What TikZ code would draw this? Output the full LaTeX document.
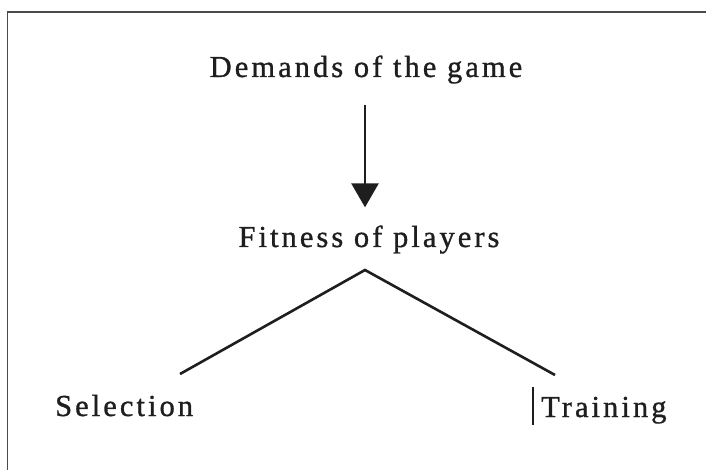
\documentclass[tikz,border=0pt]{standalone}
\usepackage{fontspec}
\newfontfamily\labelfont{Liberation Serif}[FakeBold=1, LetterSpace=10]
\usetikzlibrary{arrows.meta}
\definecolor{ink}{HTML}{1E1E1E}
\definecolor{frame}{HTML}{4A4A4A}
\begin{document}
\begin{tikzpicture}[x=1pt,y=-1pt,
  label/.style={font=\labelfont\fontsize{30.5}{36}\selectfont, text=ink, inner sep=0pt, anchor=base},
  branch/.style={draw=ink, line width=2.6pt, line join=miter},
  down/.style={draw=ink, fill=ink, line width=2.8pt, -{Triangle[length=24pt,width=27pt]}},
  cursor/.style={draw=ink, line width=2.2pt}]
  \useasboundingbox (0,0) rectangle (706,470);
  \clip (0,0) rectangle (706,470);
  % open frame running off the right and bottom edges
  \draw[frame, line width=1.8pt] (7.5,12) rectangle (730,490);

  \node[label] (demands) at (366,77) {Demands of the game};
  \node[label] (fitness) at (369,247) {Fitness of players};
  \node[label, anchor=base west] (selection) at (55,416) {Selection};
  \node[label, anchor=base west] (training) at (541,417) {Training};

  \draw[down, shorten <=21pt, shorten >=18pt] (demands.south -| 365,0) -- (fitness.north -| 365,0);

  \coordinate (apex) at (365,270);
  \coordinate (lend) at (180,374);
  \coordinate (rend) at (555,375);
  \draw[branch] (lend) -- (apex) -- (rend);

  \draw[cursor] (533,387) -- (533,425);
\end{tikzpicture}
\end{document}
